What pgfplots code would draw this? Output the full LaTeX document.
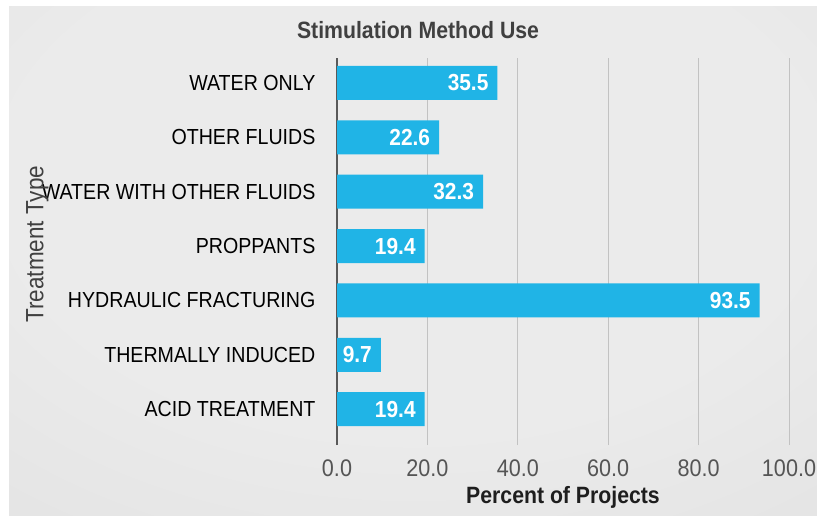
\documentclass[border=0pt]{standalone}
\usepackage{fontspec}
\setmainfont{Liberation Sans}[FakeStretch=0.9]
\usepackage{pgfplots}
\pgfplotsset{compat=1.18}
\definecolor{barblue}{RGB}{32,180,230}
\definecolor{bgA}{HTML}{EBEBEB}
\definecolor{bgB}{HTML}{E0E0E0}
\definecolor{bgC}{HTML}{CFCFCF}
\definecolor{txt}{HTML}{1E1E1E}
\definecolor{ticktxt}{HTML}{555555}
\pgfdeclareradialshading{bgshade}{\pgfpoint{0bp}{12bp}}{color(0bp)=(bgA); color(25bp)=(bgA); color(50bp)=(bgB); color(75bp)=(bgC)}
\begin{document}
\begin{tikzpicture}
\useasboundingbox (0,0) rectangle (408.5pt,257.5pt);
\fill[white] (0,0) rectangle (408.5pt,257.5pt);
\shade[shading=bgshade] (4.5pt,0) rectangle (408.5pt,254pt);
\node[font=\fontsize{11.8}{13}\selectfont\bfseries, text=black!75] at (209pt,242.5pt) {Stimulation Method Use};
\begin{axis}[
  at={(168.5pt,35pt)}, anchor=south west,
  scale only axis, width=226pt, height=193.5pt,
  xbar, bar width=17pt,
  xmin=0, xmax=100, ymin=-0.66, ymax=6.46,
  xtick={0,20,40,60,80,100},
  /pgf/number format/fixed, /pgf/number format/fixed zerofill, /pgf/number format/precision=1,
  /pgf/number format/assume math mode=true,
  xticklabel style={font=\fontsize{12}{13}\selectfont, text=ticktxt, yshift=-4pt},
  ytick={0,1,2,3,4,5,6},
  yticklabels={ACID TREATMENT, THERMALLY INDUCED, HYDRAULIC FRACTURING, PROPPANTS, WATER WITH OTHER FLUIDS, OTHER FLUIDS, WATER ONLY},
  yticklabel style={font=\fontsize{10.9}{12}\selectfont, text=black, xshift=-3pt},
  axis line style={draw=none},
  tick style={draw=none},
  xmajorgrids,
  major grid style={draw=black!24, line width=0.5pt},
  extra x ticks={0}, extra x tick labels={},
  extra x tick style={major grid style={draw=black!65, line width=0.8pt}},
  xlabel={\bfseries Percent of Projects},
  xlabel style={font=\fontsize{11.8}{13}\selectfont, text=txt, yshift=2pt},
  ylabel={Treatment Type},
  every axis y label/.style={at={(axis description cs:-0.663,0.519)}, rotate=90, anchor=center, font=\fontsize{12.5}{13}\selectfont, text=txt!85},
  nodes near coords,
  nodes near coords align={anchor=east},
  every node near coord/.append style={font=\fontsize{11.6}{12}\selectfont\bfseries, text=white, xshift=-1pt},
]
\addplot[fill=barblue, draw=none] coordinates {(19.4,0) (9.7,1) (93.5,2) (19.4,3) (32.3,4) (22.6,5) (35.5,6)};
\end{axis}
\end{tikzpicture}
\end{document}
